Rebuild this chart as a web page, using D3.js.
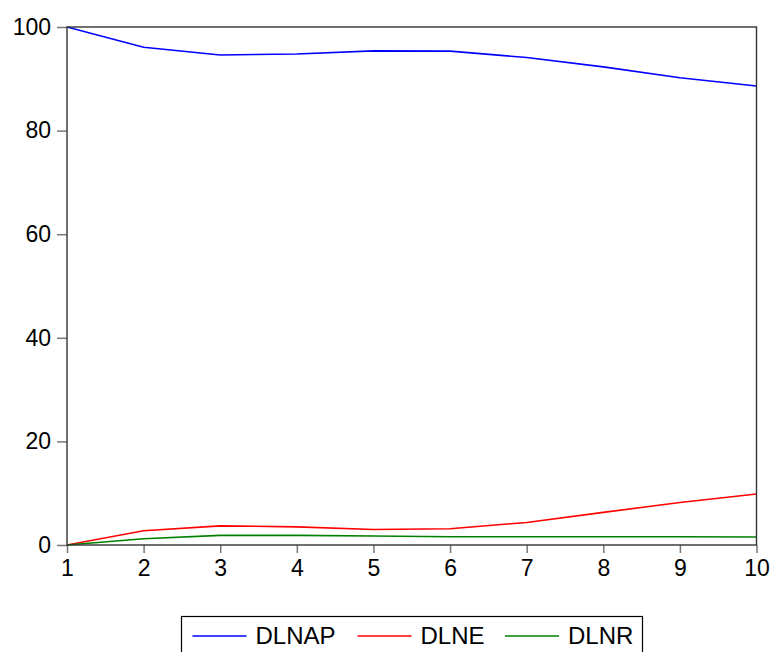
<!DOCTYPE html>
<html><head><meta charset="utf-8">
<script src="https://cdn.jsdelivr.net/npm/d3@7"></script>
<style>body{margin:0;background:#fff}svg{display:block}</style>
</head><body>
<svg id="c" width="775" height="652"></svg>
<script>
const periods = [1,2,3,4,5,6,7,8,9,10];
const yTicks = [0,20,40,60,80,100];
const seriesNames = ["DLNAP","DLNE","DLNR"];
const seriesColors = ["#0000ff","#ff0000","#008000"];
const dlnap = [100, 96.1, 94.6, 94.8, 95.4, 95.35, 94.1, 92.3, 90.2, 88.6];
const dlne  = [0, 2.75, 3.7, 3.5, 3.0, 3.15, 4.35, 6.3, 8.2, 9.85];
const dlnr  = [0, 1.2, 1.85, 1.85, 1.75, 1.6, 1.6, 1.6, 1.58, 1.55];
const seriesData = [dlnap, dlne, dlnr];

const svg = d3.select("#c");
const L = 67, R = 756.5, T = 27, B = 545;
const x = d3.scaleLinear().domain([1,10]).range([L,R]);
const y = d3.scaleLinear().domain([0,100]).range([B,T]);
const font = "Arial, 'Liberation Sans', sans-serif";

// axes
const yAxis = svg.append("g").attr("transform",`translate(${L},0)`)
  .call(d3.axisLeft(y).tickValues(yTicks).tickSize(10).tickPadding(6));
const xAxis = svg.append("g").attr("transform",`translate(0,${B})`)
  .call(d3.axisBottom(x).tickValues(periods).tickSize(8).tickPadding(7));
[yAxis,xAxis].forEach(g=>{
  g.attr("font-size",null).attr("font-family",null);
  g.select(".domain").remove();
  g.selectAll(".tick line").attr("stroke","#777").attr("stroke-width",1.5);
  g.selectAll(".tick text").style("font-family",font).style("font-size","23px").attr("fill","#000");
});

// lines
const line = d3.line().x((d,i)=>x(periods[i])).y(d=>y(d));
seriesData.forEach((s,k)=>{
  svg.append("path").datum(s).attr("d",line).attr("fill","none")
    .attr("stroke",seriesColors[k]).attr("stroke-width",1.6);
});

// frame
svg.append("rect").attr("x",L).attr("y",T).attr("width",R-L).attr("height",B-T)
  .attr("fill","none").attr("stroke","#333").attr("stroke-width",1.4);

// legend
const lg = svg.append("g");
lg.append("rect").attr("x",181.5).attr("y",616.5).attr("width",461).attr("height",50)
  .attr("fill","#fff").attr("stroke","#000").attr("stroke-width",1.2);
const lx = [192.5, 357.5, 505];
seriesNames.forEach((n,k)=>{
  lg.append("line").attr("x1",lx[k]).attr("x2",lx[k]+54).attr("y1",636).attr("y2",636)
    .attr("stroke",seriesColors[k]).attr("stroke-width",1.5);
  lg.append("text").attr("x",lx[k]+63).attr("y",644).text(n)
    .style("font-family",font).style("font-size","24px").attr("fill","#000");
});
</script>
</body></html>
